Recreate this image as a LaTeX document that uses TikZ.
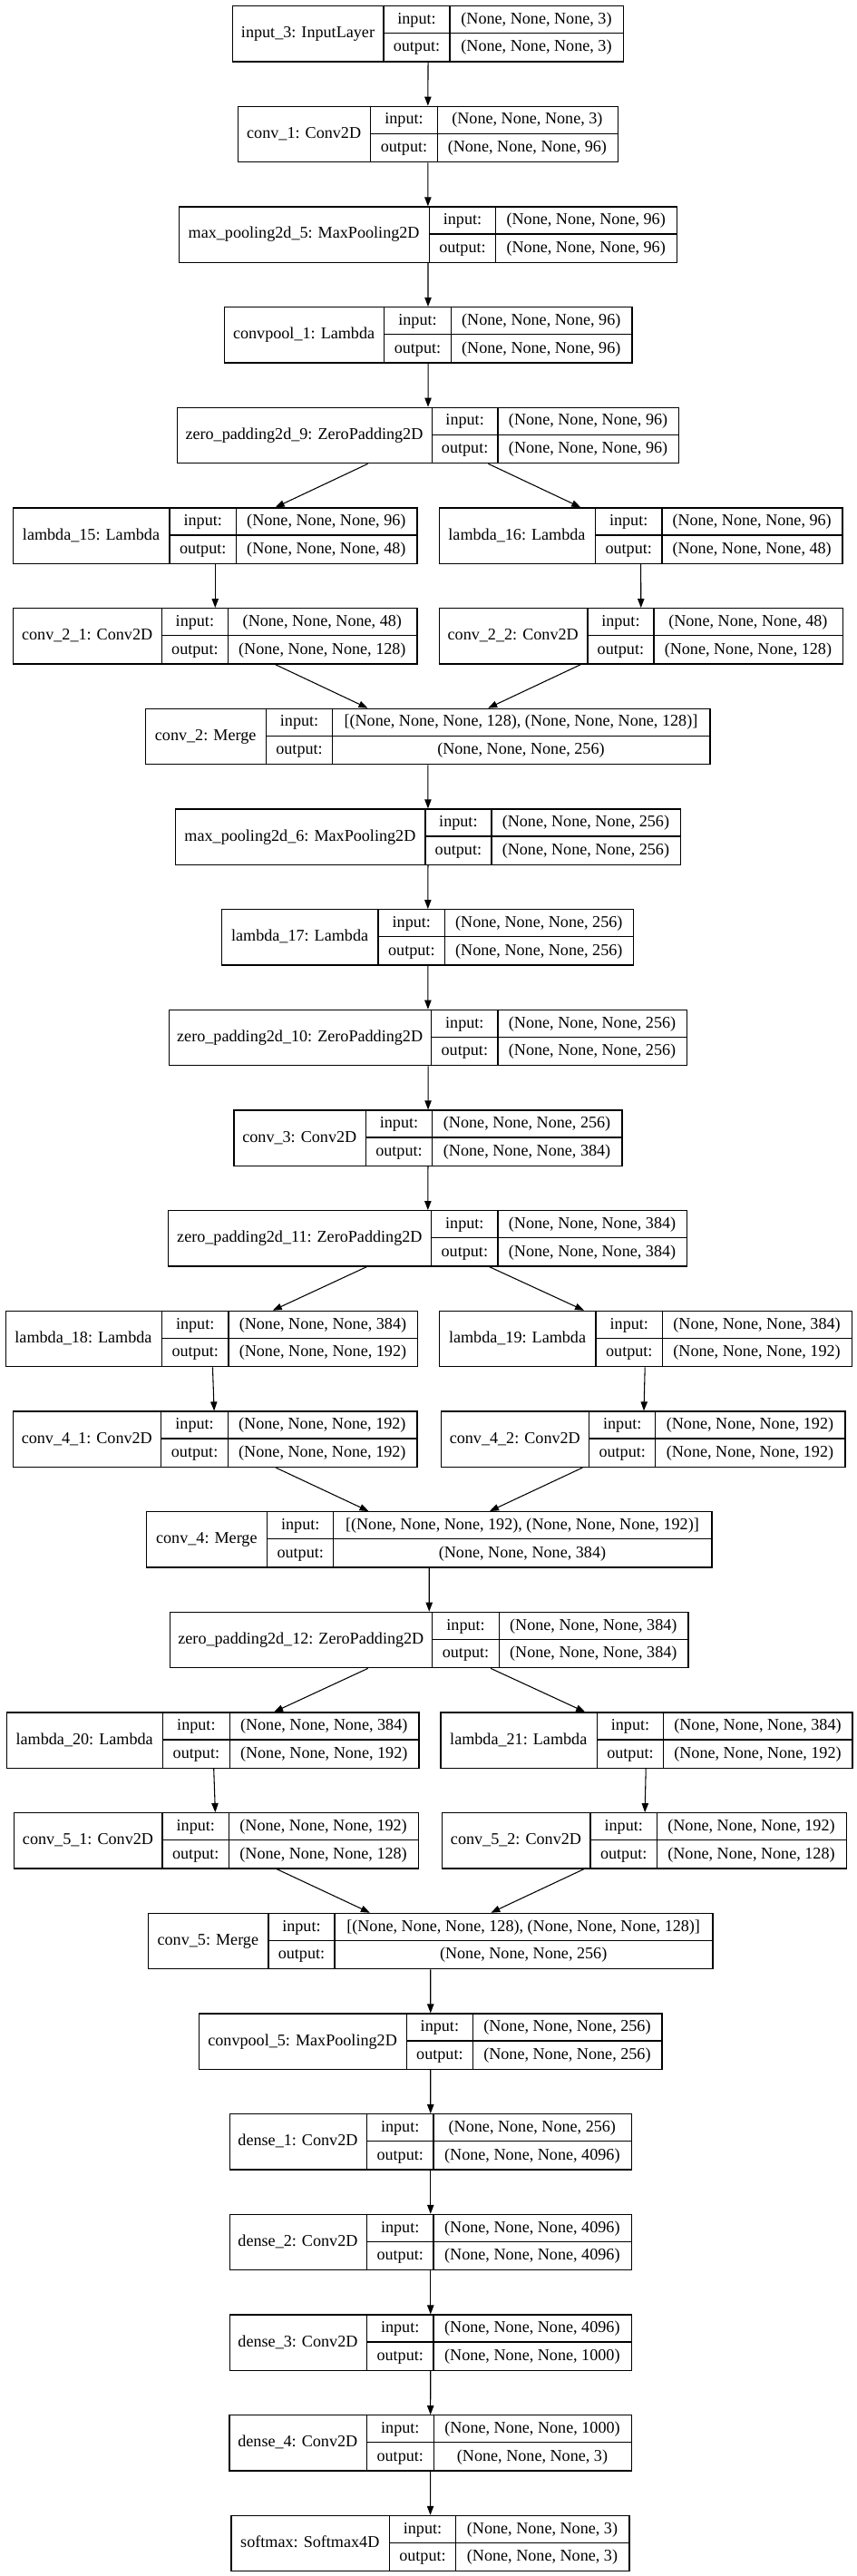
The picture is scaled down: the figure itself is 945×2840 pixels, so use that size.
\documentclass[tikz,border=0pt]{standalone}
\usepackage{fontspec}
\setmainfont{Liberation Serif}
\usetikzlibrary{arrows.meta}
\tikzset{
  box/.style={draw=black, line width=1pt, inner sep=0pt, anchor=north west},
  sepline/.style={draw=black, line width=1pt},
  txt/.style={anchor=base, inner sep=0pt, font=\fontsize{13.6pt}{16pt}\selectfont},
  arr/.style={draw=black, line width=0.8pt, -{Triangle[length=7.5pt,width=5.5pt]}},
}
% id, row, xleft, div1, div2, xright, name, input, output
\newcommand\layer[9]{%
  \pgfmathsetmacro\Ltop{6+110.67*#2}%
  \pgfmathsetmacro\Lw{(#6-#3)*0.75}%
  \pgfmathsetmacro\Lmid{\Ltop+30.65}%
  \pgfmathsetmacro\Lbot{\Ltop+61.3}%
  \node[box, minimum width=\Lw pt, minimum height=45.975pt] (#1) at (#3,\Ltop) {};
  \draw[sepline] (#4,\Ltop) -- (#4,\Lbot);
  \draw[sepline] (#5,\Ltop) -- (#5,\Lbot);
  \draw[sepline] (#4,\Lmid) -- (#6,\Lmid);
  \node[txt] at ({(#3+#4)/2},{\Lmid+5}) {#7};
  \node[txt] at ({(#4+#5)/2},{\Ltop+15.3+5}) {input:};
  \node[txt] at ({(#4+#5)/2},{\Ltop+46+5}) {output:};
  \node[txt] at ({(#5+#6)/2},{\Ltop+15.3+5}) {#8};
  \node[txt] at ({(#5+#6)/2},{\Ltop+46+5}) {#9};
}
\begin{document}
\begin{tikzpicture}[x=0.75pt,y=-0.75pt]
\useasboundingbox (0,0) rectangle (945,2840);
\layer{input3}{0}{256}{423}{496}{687}{input\_3: InputLayer}{(None, None, None, 3)}{(None, None, None, 3)}
\layer{conv1}{1}{261.6}{408.7}{482.3}{680.5}{conv\_1: Conv2D}{(None, None, None, 3)}{(None, None, None, 96)}
\layer{mp5}{2}{197}{473.2}{546.8}{745.6}{max\_pooling2d\_5: MaxPooling2D}{(None, None, None, 96)}{(None, None, None, 96)}
\layer{cp1}{3}{246.5}{423.7}{497.3}{696.2}{convpool\_1: Lambda}{(None, None, None, 96)}{(None, None, None, 96)}
\layer{zp9}{4}{194.7}{476.2}{549.1}{748.1}{zero\_padding2d\_9: ZeroPadding2D}{(None, None, None, 96)}{(None, None, None, 96)}
\layer{l15}{5}{13.9}{187.1}{260.4}{459.3}{lambda\_15: Lambda}{(None, None, None, 96)}{(None, None, None, 48)}
\layer{l16}{5}{483.5}{656.4}{730}{928.3}{lambda\_16: Lambda}{(None, None, None, 96)}{(None, None, None, 48)}
\layer{c21}{6}{13.9}{178.4}{251.4}{459.3}{conv\_2\_1: Conv2D}{(None, None, None, 48)}{(None, None, None, 128)}
\layer{c22}{6}{483.5}{647.9}{720.9}{928.9}{conv\_2\_2: Conv2D}{(None, None, None, 48)}{(None, None, None, 128)}
\layer{c2}{7}{159.7}{293.6}{366.5}{782.4}{conv\_2: Merge}{[(None, None, None, 128), (None, None, None, 128)]}{(None, None, None, 256)}
\layer{mp6}{8}{192.9}{468.9}{541.9}{749.9}{max\_pooling2d\_6: MaxPooling2D}{(None, None, None, 256)}{(None, None, None, 256)}
\layer{l17}{9}{244.1}{417.1}{490.6}{698}{lambda\_17: Lambda}{(None, None, None, 256)}{(None, None, None, 256)}
\layer{zp10}{10}{185.7}{475.6}{549.1}{757}{zero\_padding2d\_10: ZeroPadding2D}{(None, None, None, 256)}{(None, None, None, 256)}
\layer{c3}{11}{257.4}{403.2}{476.8}{685.4}{conv\_3: Conv2D}{(None, None, None, 256)}{(None, None, None, 384)}
\layer{zp11}{12}{185.1}{475.6}{549.1}{757}{zero\_padding2d\_11: ZeroPadding2D}{(None, None, None, 384)}{(None, None, None, 384)}
\layer{l18}{13}{5.5}{178.4}{252}{459.9}{lambda\_18: Lambda}{(None, None, None, 384)}{(None, None, None, 192)}
\layer{l19}{13}{484.1}{657}{730.6}{938.5}{lambda\_19: Lambda}{(None, None, None, 384)}{(None, None, None, 192)}
\layer{c41}{14}{13.8}{177.8}{251.4}{459.3}{conv\_4\_1: Conv2D}{(None, None, None, 192)}{(None, None, None, 192)}
\layer{c42}{14}{485.8}{649.8}{722.7}{931.3}{conv\_4\_2: Conv2D}{(None, None, None, 192)}{(None, None, None, 192)}
\layer{c4}{15}{160.9}{294.8}{367.7}{784.2}{conv\_4: Merge}{[(None, None, None, 192), (None, None, None, 192)]}{(None, None, None, 384)}
\layer{zp12}{16}{186.9}{476.8}{550.3}{758.3}{zero\_padding2d\_12: ZeroPadding2D}{(None, None, None, 384)}{(None, None, None, 384)}
\layer{l20}{17}{6.7}{179.6}{253.2}{461.2}{lambda\_20: Lambda}{(None, None, None, 384)}{(None, None, None, 192)}
\layer{l21}{17}{485.3}{658.2}{731.8}{939.2}{lambda\_21: Lambda}{(None, None, None, 384)}{(None, None, None, 192)}
\layer{c51}{18}{15}{179}{252.6}{460.6}{conv\_5\_1: Conv2D}{(None, None, None, 192)}{(None, None, None, 128)}
\layer{c52}{18}{487}{651}{724.5}{932.5}{conv\_5\_2: Conv2D}{(None, None, None, 192)}{(None, None, None, 128)}
\layer{c5}{19}{162.7}{296}{368.9}{785.4}{conv\_5: Merge}{[(None, None, None, 128), (None, None, None, 128)]}{(None, None, None, 256)}
\layer{cp5}{20}{218.8}{448.4}{521.4}{729.4}{convpool\_5: MaxPooling2D}{(None, None, None, 256)}{(None, None, None, 256)}
\layer{d1}{21}{252.5}{404.4}{478}{695.7}{dense\_1: Conv2D}{(None, None, None, 256)}{(None, None, None, 4096)}
\layer{d2}{22}{252.5}{404.4}{478}{695.7}{dense\_2: Conv2D}{(None, None, None, 4096)}{(None, None, None, 4096)}
\layer{d3}{23}{252.5}{404.4}{478}{695.7}{dense\_3: Conv2D}{(None, None, None, 4096)}{(None, None, None, 1000)}
\layer{d4}{24}{252.3}{404.3}{478.3}{695.7}{dense\_4: Conv2D}{(None, None, None, 1000)}{(None, None, None, 3)}
\layer{sm}{25}{254.3}{429.3}{502.7}{693.3}{softmax: Softmax4D}{(None, None, None, 3)}{(None, None, None, 3)}
% connectors
\draw[arr] (input3) -- (conv1);
\draw[arr] (conv1) -- (mp5);
\draw[arr] (mp5) -- (cp1);
\draw[arr] (cp1) -- (zp9);
\draw[arr] (zp9) -- (l15);
\draw[arr] (zp9) -- (l16);
\draw[arr] (l15) -- (c21);
\draw[arr] (l16) -- (c22);
\draw[arr] (c21) -- (c2);
\draw[arr] (c22) -- (c2);
\draw[arr] (c2) -- (mp6);
\draw[arr] (mp6) -- (l17);
\draw[arr] (l17) -- (zp10);
\draw[arr] (zp10) -- (c3);
\draw[arr] (c3) -- (zp11);
\draw[arr] (zp11) -- (l18);
\draw[arr] (zp11) -- (l19);
\draw[arr] (l18) -- (c41);
\draw[arr] (l19) -- (c42);
\draw[arr] (c41) -- (c4);
\draw[arr] (c42) -- (c4);
\draw[arr] (c4) -- (zp12);
\draw[arr] (zp12) -- (l20);
\draw[arr] (zp12) -- (l21);
\draw[arr] (l20) -- (c51);
\draw[arr] (l21) -- (c52);
\draw[arr] (c51) -- (c5);
\draw[arr] (c52) -- (c5);
\draw[arr] (c5) -- (cp5);
\draw[arr] (cp5) -- (d1);
\draw[arr] (d1) -- (d2);
\draw[arr] (d2) -- (d3);
\draw[arr] (d3) -- (d4);
\draw[arr] (d4) -- (sm);
\end{tikzpicture}
\end{document}
